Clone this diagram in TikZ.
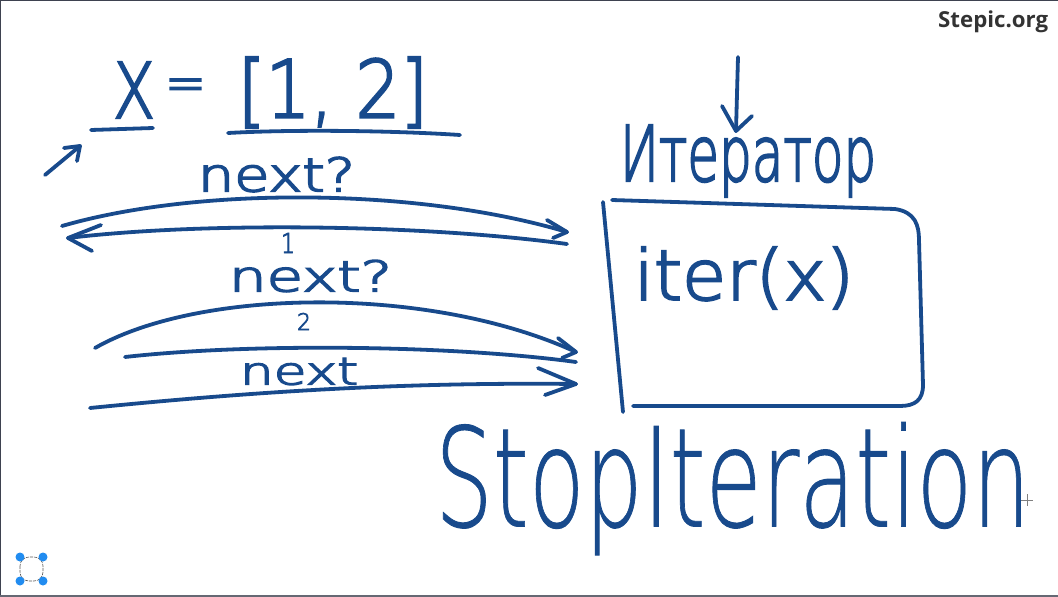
\documentclass[tikz,border=0pt]{standalone}
\usepackage{graphicx}
\usepackage{fontspec}
\setmainfont{Liberation Sans}
\newfontfamily\thinfont{DejaVu Sans ExtraLight}[FakeBold=0.7]
\newfontfamily\midfont{DejaVu Sans ExtraLight}[FakeBold=3]
\newfontfamily\smallfont{DejaVu Sans ExtraLight}[FakeBold=3.5]
\newfontfamily\logofont{Open Sans}
\usetikzlibrary{arrows.meta}
\definecolor{ink}{RGB}{24,74,140}
\definecolor{framecol}{RGB}{62,66,80}
\definecolor{logogray}{RGB}{51,51,51}
\definecolor{dotblue}{RGB}{33,140,240}
\newcommand{\fitxt}[3]{\resizebox*{#1pt}{#2pt}{#3}}
\tikzset{
  pen/.style={draw=ink,line width=3.8pt,line cap=round,line join=round},
  hand/.style={inner sep=0pt,outer sep=0pt,anchor=north west,text=ink},
}
\begin{document}
\begin{tikzpicture}[x=1pt,y=-1pt]
\useasboundingbox (0,0) rectangle (1058,597);
\fill[white] (0,0) rectangle (1058,597);
\draw[framecol,line width=2pt] (0,597) -- (0,0) -- (1058,0);
\draw[framecol!80,line width=1.5pt] (0,596) -- (1058,596);

% texts
\node[hand] (xv) at (113,62) {\fitxt{42}{56}{\midfont X}};
\node[hand] (eq) at (165,79) {\fitxt{41}{22}{\midfont =}};
\node[hand] (lst) at (238,57) {\fitxt{190}{71}{\midfont [1, 2]}};
\node[hand] (n1) at (198,157) {\fitxt{157}{35}{\smallfont next?}};
\node[hand] (one) at (281,233) {\fitxt{14}{20}{\smallfont 1}};
\node[hand] (n2) at (229,260) {\fitxt{163}{32}{\smallfont next?}};
\node[hand] (two) at (297,313) {\fitxt{14}{17}{\smallfont 2}};
\node[hand] (n3) at (240,358) {\fitxt{118}{27}{\smallfont next}};
\node[hand] (itr) at (620,125) {\fitxt{256}{72}{\midfont Итератор}};
\node[hand] (iterx) at (634,247) {\fitxt{220}{62}{\midfont iter(x)}};
\node[hand] (stop) at (435,422) {\fitxt{595}{133}{\thinfont StopIteration}};
\node[inner sep=0pt,anchor=north west,text=logogray] (logo) at (938,11) {\fitxt{110}{22}{\logofont\bfseries Stepic.org}};

% underlines
\coordinate (ux1) at (91,130); \coordinate (ux2) at (153,128);
\draw[pen] (ux1) -- (ux2);
\coordinate (ul1) at (228,133); \coordinate (ul2) at (460,135);
\draw[pen] (ul1) .. controls (300,129) and (400,131) .. (ul2);

% small arrow
\coordinate (sa1) at (45,175); \coordinate (sa2) at (80,146);
\draw[pen] (sa1) -- (sa2);
\draw[pen] (64,148) -- (sa2) -- (77,161);

% arrow 1 (next?)
\coordinate (a1s) at (62,226); \coordinate (a1e) at (567,232);
\draw[pen] (a1s) .. controls (200,186) and (420,188) .. (a1e);
\draw[pen] (547,220) -- (a1e) -- (553,238);

% arrow 2 (return 1)
\coordinate (a2s) at (567,244); \coordinate (a2e) at (68,238);
\draw[pen] (a2s) .. controls (420,224) and (200,222) .. (a2e);
\draw[pen] (101,225) -- (a2e) -- (92,251);

% arrow 3 (next?)
\coordinate (a3s) at (95,348); \coordinate (a3e) at (576,352);
\draw[pen] (a3s) .. controls (200,288) and (430,285) .. (a3e);
\draw[pen] (558,338) -- (a3e) -- (562,358);

% line 4 (return 2)
\coordinate (a4s) at (576,362); \coordinate (a4e) at (125,357);
\draw[pen] (a4s) .. controls (450,345) and (250,343) .. (a4e);

% arrow 5 (next)
\coordinate (a5s) at (90,408); \coordinate (a5e) at (576,384);
\draw[pen] (a5s) .. controls (250,392) and (400,382) .. (a5e);
\draw[pen] (538,368) -- (a5e) -- (545,395);

% box
\coordinate (bl1) at (603,202); \coordinate (bl2) at (623,412);
\draw[pen] (bl1) -- (bl2);
\draw[pen] (612,200) -- (895,209) .. controls (915,212) and (919,225) .. (919,240)
  -- (923,385) .. controls (923,400) and (915,406) .. (900,406) -- (633,406);

% down arrow
\coordinate (d1) at (738,57); \coordinate (d2) at (736,131);
\draw[pen] (d1) -- (d2);
\draw[pen] (722,106) -- (d2) -- (752,116);

% cursor
\draw[gray,line width=1pt] (1021,500) -- (1033,500) (1027,494) -- (1027,506);

% selection icon
\draw[gray!70!black,line width=0.6pt,dash pattern=on 3pt off 1pt,rounded corners=9pt] (20,557) rectangle (43,581);
\foreach \p in {(20,557),(43,557),(20,581),(43,581)} \fill[dotblue] \p circle (4.5pt);
\end{tikzpicture}
\end{document}
